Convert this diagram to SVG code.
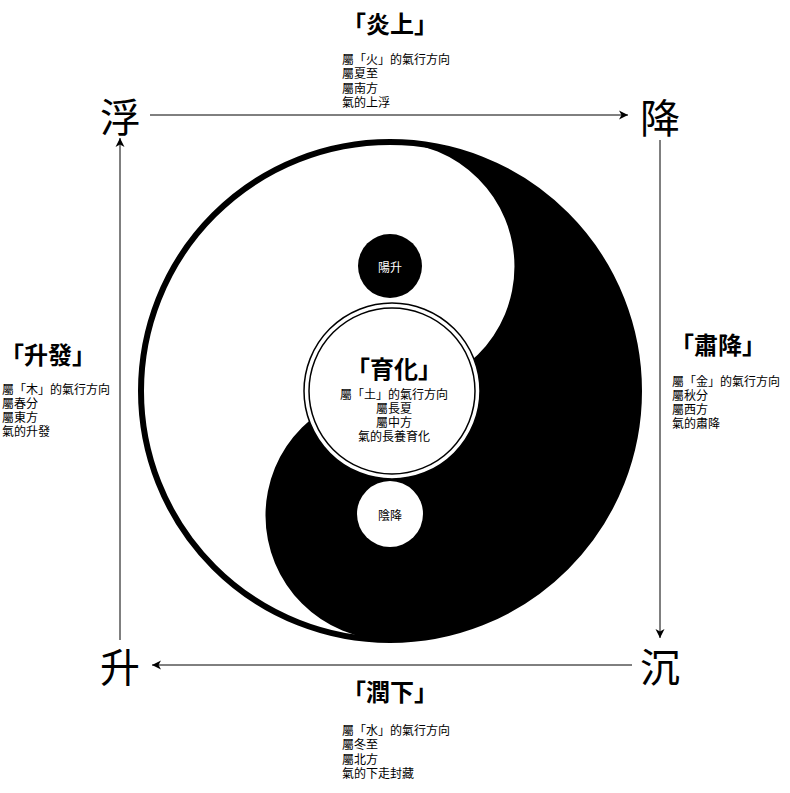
<svg xmlns="http://www.w3.org/2000/svg" width="790" height="793" viewBox="0 0 790 793">
<style>
text{font-family:"Noto Sans CJK JP","Noto Sans CJK TC",sans-serif;fill:#000;dominant-baseline:central}
.t{font-size:24px;font-weight:bold;text-anchor:middle}
.s{font-size:12px}
.c{font-size:12px;text-anchor:middle}
.big{font-size:40px;text-anchor:middle}
.conn{stroke:#000;stroke-width:1;fill:none;marker-end:url(#arr)}
</style>
<defs>
<marker id="arr" markerUnits="userSpaceOnUse" markerWidth="12" markerHeight="12" viewBox="-10 -6 12 12" refX="0" refY="0" orient="auto">
<path d="M0,0 L-9,-4.5 L-6.5,0 L-9,4.5 Z" fill="#000"/>
</marker>
</defs>
<rect width="790" height="793" fill="#fff"/>
<g id="taiji">
<circle cx="390" cy="391" r="249" fill="#fff"/>
<path d="M390,142 A249,249 0 0 1 390,640 A124.5,124.5 0 0 1 390,391 A124.5,124.5 0 0 0 390,142 Z" fill="#000"/>
<circle cx="390" cy="391" r="249" fill="none" stroke="#000" stroke-width="6"/>
</g>
<g id="yang">
<circle cx="390" cy="266" r="32" fill="#000"/>
<text x="390" y="266" class="c" style="fill:#fff">陽升</text>
</g>
<g id="yin">
<circle cx="390" cy="514" r="33" fill="#fff"/>
<text x="390" y="514" class="c">陰降</text>
</g>
<g id="center">
<circle cx="392" cy="391" r="88" fill="#fff" stroke="#000" stroke-width="1.5"/>
<circle cx="392" cy="391" r="83" fill="none" stroke="#000" stroke-width="1.5"/>
<text x="394" y="367" class="t">「育化」</text>
<text class="c" y="393"><tspan x="394">屬「土」的氣行方向</tspan><tspan x="394" dy="14">屬長夏</tspan><tspan x="394" dy="14">屬中方</tspan><tspan x="394" dy="14">氣的長養育化</tspan></text>
</g>
<g id="connectors">
<path class="conn" d="M150,115 L628,115"/>
<path class="conn" d="M660,140 L660,638"/>
<path class="conn" d="M632,665 L152,665"/>
<path class="conn" d="M120,640 L120,138"/>
</g>
<g id="fu"><text x="120" y="115" class="big">浮</text></g>
<g id="jiang"><text x="660" y="116" class="big">降</text></g>
<g id="chen"><text x="660" y="665" class="big">沉</text></g>
<g id="sheng"><text x="120" y="665" class="big">升</text></g>
<g id="top">
<text x="390" y="22" class="t">「炎上」</text>
<text class="s" y="58"><tspan x="342">屬「火」的氣行方向</tspan><tspan x="342" dy="14.4">屬夏至</tspan><tspan x="342" dy="14.4">屬南方</tspan><tspan x="342" dy="14.4">氣的上浮</tspan></text>
</g>
<g id="left">
<text x="48" y="353" class="t">「升發」</text>
<text class="s" y="388"><tspan x="2">屬「木」的氣行方向</tspan><tspan x="2" dy="14">屬春分</tspan><tspan x="2" dy="14">屬東方</tspan><tspan x="2" dy="14">氣的升發</tspan></text>
</g>
<g id="right">
<text x="718" y="343" class="t">「肅降」</text>
<text class="s" y="380"><tspan x="672">屬「金」的氣行方向</tspan><tspan x="672" dy="14">屬秋分</tspan><tspan x="672" dy="14">屬西方</tspan><tspan x="672" dy="14">氣的肅降</tspan></text>
</g>
<g id="bottom">
<text x="390" y="690" class="t">「潤下」</text>
<text class="s" y="729"><tspan x="342">屬「水」的氣行方向</tspan><tspan x="342" dy="14.4">屬冬至</tspan><tspan x="342" dy="14.4">屬北方</tspan><tspan x="342" dy="14.4">氣的下走封藏</tspan></text>
</g>
</svg>
